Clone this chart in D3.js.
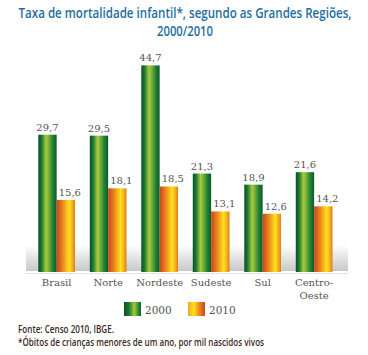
<!DOCTYPE html>
<html><head><meta charset="utf-8">
<script src="https://cdn.jsdelivr.net/npm/d3@7"></script>
<style>
body{margin:0;background:#fff;}
svg{display:block;}
.title{font-family:"Open Sans","Noto Sans",sans-serif;fill:#1d6ea3;font-size:15px;font-weight:600;}
.serif{font-family:"DejaVu Serif",serif;fill:#555;}
.note{font-family:"Open Sans","Noto Sans",sans-serif;fill:#3b2a22;font-size:10.5px;font-weight:600;}
</style></head>
<body><svg id="c" width="368" height="355"></svg>
<script>
const categories = ["Brasil","Norte","Nordeste","Sudeste","Sul","Centro-Oeste"];
const categoryLines = [["Brasil"],["Norte"],["Nordeste"],["Sudeste"],["Sul"],["Centro-","Oeste"]];
const series = ["2000","2010"];
const values2000 = [29.7,29.5,44.7,21.3,18.9,21.6];
const values2010 = [15.6,18.1,18.5,13.1,12.6,14.2];
const valueLabels2000 = ["29,7","29,5","44,7","21,3","18,9","21,6"];
const valueLabels2010 = ["15,6","18,1","18,5","13,1","12,6","14,2"];
const titleLines = ["Taxa de mortalidade infantil*, segundo as Grandes Regiões,","2000/2010"];
const notes = ["Fonte: Censo 2010, IBGE.","*Óbitos de crianças menores de um ano, por mil nascidos vivos"];

const svg = d3.select("#c");
const defs = svg.append("defs");
function grad(id, stops, vertical){
  const g = defs.append("linearGradient").attr("id",id)
    .attr("x1","0").attr("y1","0").attr("x2",vertical?"0":"1").attr("y2",vertical?"1":"0");
  stops.forEach(s=>g.append("stop").attr("offset",s[0]).attr("stop-color",s[1]));
}
grad("g2000",[[0,"#0a4f24"],[0.18,"#1a7a32"],[0.42,"#a8ca3c"],[0.55,"#7fb43a"],[0.8,"#1f7f34"],[1,"#0c5a2a"]]);
grad("g2010",[[0,"#c4481e"],[0.2,"#e06a1c"],[0.45,"#f2a51e"],[0.68,"#fde31c"],[0.85,"#f3b21e"],[1,"#e07c1e"]]);
grad("gl2000",[[0,"#0a4f24"],[0.3,"#1a7a32"],[0.6,"#a8ca3c"],[0.8,"#3f9a36"],[1,"#0c5a2a"]]);
grad("gl2010",[[0,"#f2a51e"],[0.35,"#fde31c"],[0.65,"#f08a1e"],[1,"#c4481e"]]);
grad("band",[[0,"#ffffff"],[1,"#c8c8ca"]],true);

const y = d3.scaleLinear().domain([0,45]).range([272,64]);
const x = d3.scaleBand().domain(categories).range([38.3,332.5]).paddingInner(0.287).paddingOuter(0);
const xs = d3.scaleBand().domain(series).range([0,x.bandwidth()]);

// title
const titleW = [333,56];
svg.selectAll(".title").data(titleLines).enter().append("text").attr("class","title")
  .attr("x",185).attr("y",(d,i)=>18+i*18).attr("text-anchor","middle")
  .attr("textLength",(d,i)=>titleW[i]).attr("lengthAdjust","spacingAndGlyphs").text(d=>d);

// floor band
svg.append("rect").attr("x",26).attr("y",245).attr("width",322).attr("height",26).attr("fill","url(#band)");
svg.append("line").attr("x1",26).attr("x2",348).attr("y1",273.5).attr("y2",273.5).attr("stroke","#e2e2e2");

const data = categories.map((c,i)=>({c, v:[values2000[i],values2010[i]], l:[valueLabels2000[i],valueLabels2010[i]]}));
const g = svg.selectAll(".grp").data(data).enter().append("g").attr("transform",d=>`translate(${x(d.c)},0)`);
series.forEach((s,si)=>{
  g.append("rect").attr("x",xs(s)).attr("width",xs.bandwidth())
    .attr("y",d=>y(d.v[si])).attr("height",d=>y(0)-y(d.v[si])).attr("fill",`url(#g${s})`);
  g.append("text").attr("class","serif").attr("font-size",10)
    .attr("x",xs(s)+xs.bandwidth()/2+(si?4:0)).attr("y",d=>y(d.v[si])-4)
    .attr("text-anchor","middle").text(d=>d.l[si]);
});
g.each(function(d,i){
  const t = d3.select(this).append("text").attr("class","serif").attr("font-size",10).attr("text-anchor","middle");
  categoryLines[i].forEach((ln,li)=>t.append("tspan").attr("x",x.bandwidth()/2).attr("y",286+li*13).text(ln));
});

// legend
const lx = d3.scaleOrdinal().domain(series).range([124,188]);
series.forEach(s=>{
  svg.append("rect").attr("x",lx(s)).attr("y",302).attr("width",17).attr("height",14).attr("fill",`url(#gl${s})`);
  svg.append("text").attr("class","serif").attr("font-size",10.5).attr("x",lx(s)+21).attr("y",313.5).text(s);
});

// notes
const noteW = [96,246];
svg.selectAll(".note").data(notes).enter().append("text").attr("class","note")
  .attr("x",18).attr("y",(d,i)=>333+i*13)
  .attr("textLength",(d,i)=>noteW[i]).attr("lengthAdjust","spacingAndGlyphs").text(d=>d);
</script></body></html>
